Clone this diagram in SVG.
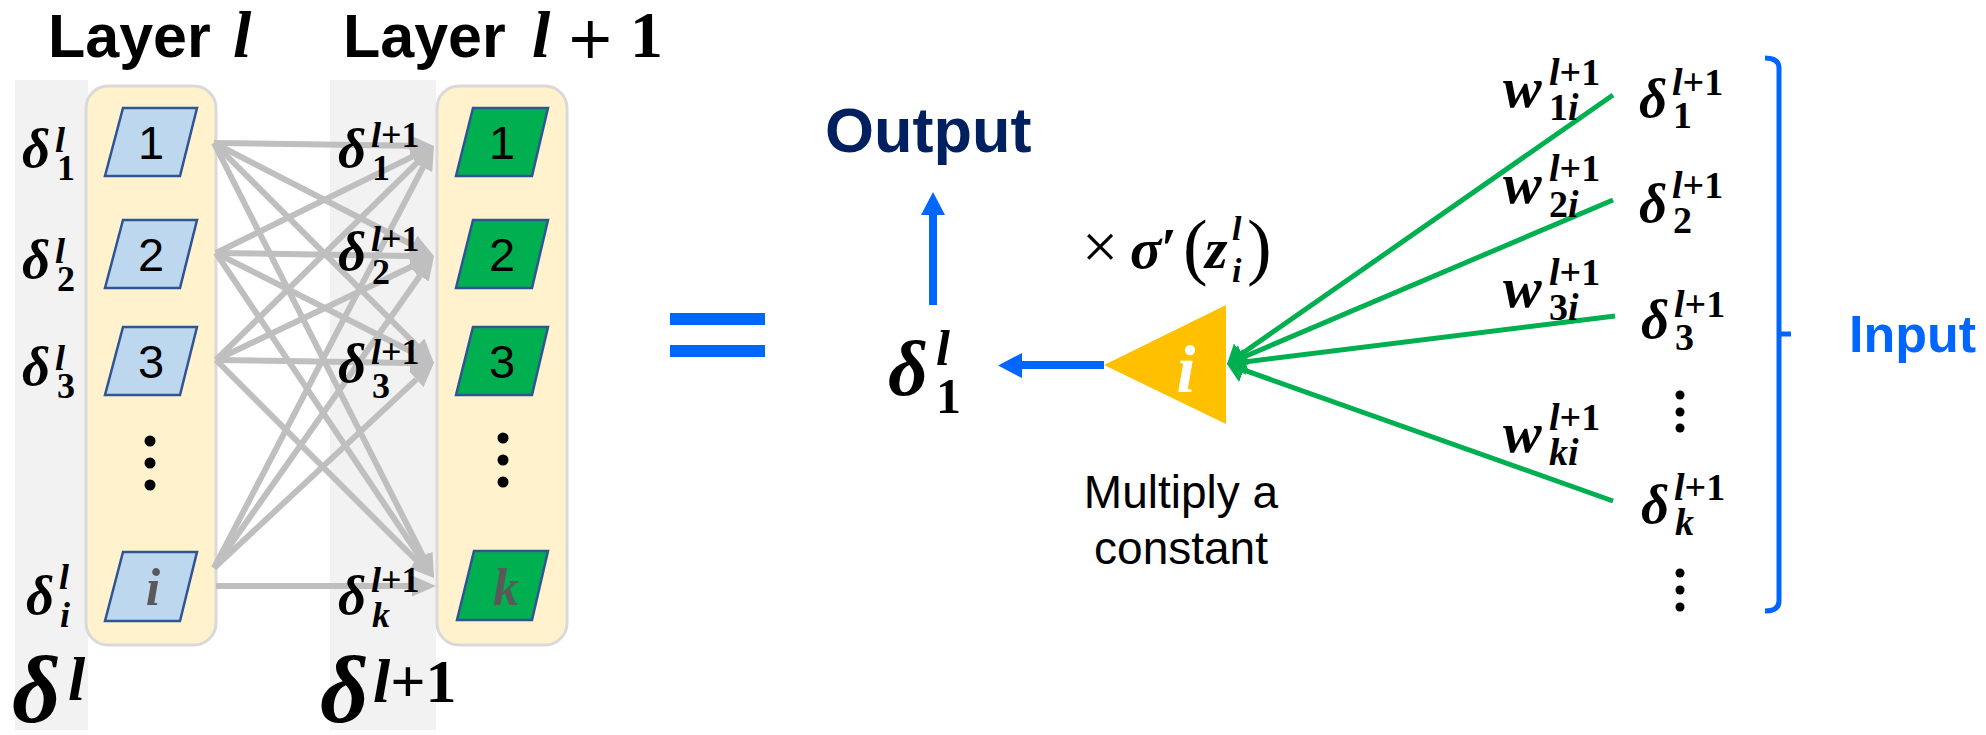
<svg xmlns="http://www.w3.org/2000/svg" width="1986" height="735" viewBox="0 0 1986 735">
<style>
.band{fill:#F2F2F2}
.col{fill:#FFF2CC;stroke:#D9D9D9;stroke-width:3}
.pb{fill:#BDD7EE;stroke:#2F5597;stroke-width:2.5}
.pg{fill:#00B050;stroke:#2F5597;stroke-width:2.5}
.num{font-family:"Liberation Sans",Arial,sans-serif;font-size:47px;fill:#000;text-anchor:middle}
.m{font-family:"Liberation Serif","DejaVu Serif",serif;font-weight:bold;font-style:italic;fill:#000}
.u{font-style:normal}
.gl{stroke:#BFBFBF;stroke-width:6;fill:none;marker-end:url(#ga)}
.gn{stroke:#00B050;stroke-width:5;fill:none;marker-end:url(#gr)}
.sans{font-family:"Liberation Sans",Arial,sans-serif}
.L{font-size:55px}.S{font-size:36px}
.W{font-size:58px}.WS{font-size:38px}
</style>
<defs>
<marker id="ga" viewBox="0 0 10 10" refX="0" refY="5" markerWidth="4" markerHeight="3.5" orient="auto" markerUnits="strokeWidth" preserveAspectRatio="none"><path d="M0,0 L10,5 L0,10 z" fill="#BFBFBF"/></marker>
<marker id="gr" viewBox="0 0 10 10" refX="0" refY="5" markerWidth="3.5" markerHeight="5.2" orient="auto" markerUnits="strokeWidth" preserveAspectRatio="none"><path d="M0,0 L10,5 L0,10 z" fill="#00B050"/></marker>
</defs>
<rect width="1986" height="735" fill="#fff"/>

<g id="titles">
<text x="48" y="57" class="sans" font-size="61" font-weight="bold">Layer <tspan class="m" font-size="66" x="233">l</tspan></text>
<text x="343" y="57" class="sans" font-size="61" font-weight="bold">Layer <tspan class="m" font-size="66" x="532">l</tspan><tspan font-family="DejaVu Sans, sans-serif" font-size="58" font-weight="normal" x="566" y="58">+</tspan><tspan class="m u" font-size="66" x="630" y="57">1</tspan></text>
</g>

<g id="bands">
<rect class="band" x="15" y="80" width="73" height="650"/>
<rect class="band" x="330" y="80" width="106" height="650"/>
<rect class="col" x="86" y="86" width="130" height="559" rx="22"/>
<rect class="col" x="437" y="86" width="130" height="559" rx="22"/>
</g>

<g id="connectors">
<line class="gl" x1="214" y1="143" x2="410" y2="145.7"/>
<line class="gl" x1="214" y1="143" x2="412.6" y2="245"/>
<line class="gl" x1="214" y1="143" x2="417" y2="346"/>
<line class="gl" x1="214" y1="143" x2="423.2" y2="556.6"/>
<line class="gl" x1="216" y1="253" x2="412.5" y2="156.6"/>
<line class="gl" x1="216" y1="253" x2="410" y2="256"/>
<line class="gl" x1="216" y1="253" x2="412.6" y2="352.2"/>
<line class="gl" x1="216" y1="253" x2="420.6" y2="558.1"/>
<line class="gl" x1="216" y1="360" x2="416.9" y2="162.8"/>
<line class="gl" x1="216" y1="360" x2="412.3" y2="266.3"/>
<line class="gl" x1="216" y1="360" x2="410" y2="363"/>
<line class="gl" x1="216" y1="360" x2="417" y2="561"/>
<line class="gl" x1="214" y1="568" x2="422.9" y2="167.3"/>
<line class="gl" x1="214" y1="568" x2="420.2" y2="275.6"/>
<line class="gl" x1="214" y1="568" x2="416.4" y2="379.4"/>
<line class="gl" x1="216" y1="586" x2="412" y2="586"/>
</g>

<g id="node-l1"><polygon class="pb" points="123,108 197,108 180,176 105,176"/><text class="num" x="151" y="159">1</text></g>
<g id="node-l2"><polygon class="pb" points="123,220 197,220 180,288 105,288"/><text class="num" x="151" y="271">2</text></g>
<g id="node-l3"><polygon class="pb" points="123,327 197,327 180,395 105,395"/><text class="num" x="151" y="378">3</text></g>
<g id="node-li"><polygon class="pb" points="123,552 197,552 180,621 105,621"/><text class="m" x="153" y="605" font-size="52" text-anchor="middle" style="fill:#595959">i</text></g>
<g id="dots-left" fill="#000"><circle cx="150" cy="441" r="5.5"/><circle cx="150" cy="463" r="5.5"/><circle cx="150" cy="485" r="5.5"/></g>

<g id="node-r1"><polygon class="pg" points="473,108 548,108 532,176 456,176"/><text class="num" x="502" y="159">1</text></g>
<g id="node-r2"><polygon class="pg" points="473,220 548,220 532,288 456,288"/><text class="num" x="502" y="271">2</text></g>
<g id="node-r3"><polygon class="pg" points="473,327 548,327 532,395 456,395"/><text class="num" x="502" y="378">3</text></g>
<g id="node-rk"><polygon class="pg" points="474,551 548,551 532,620 457,620"/><text class="m" x="506" y="605" font-size="52" text-anchor="middle" style="fill:#595959">k</text></g>
<g id="dots-right" fill="#000"><circle cx="503" cy="438" r="5.5"/><circle cx="503" cy="460" r="5.5"/><circle cx="503" cy="482" r="5.5"/></g>

<g id="labels-left">
<text class="m L" x="22" y="167">δ<tspan class="S" x="55" y="152">l</tspan><tspan class="S u" x="57" y="180">1</tspan></text>
<text class="m L" x="22" y="278">δ<tspan class="S" x="55" y="263">l</tspan><tspan class="S u" x="57" y="291">2</tspan></text>
<text class="m L" x="22" y="385">δ<tspan class="S" x="55" y="370">l</tspan><tspan class="S u" x="57" y="398">3</tspan></text>
<text class="m L" x="26" y="614">δ<tspan class="S" x="59" y="589">l</tspan><tspan class="S" x="60" y="627">i</tspan></text>
<text class="m" font-size="95" x="12" y="722">δ<tspan font-size="62" x="68" y="700">l</tspan></text>
</g>

<g id="labels-right">
<text class="m L" x="338" y="167">δ<tspan class="S" x="371" y="147">l<tspan class="u">+1</tspan></tspan><tspan class="S u" x="372" y="180">1</tspan></text>
<text class="m L" x="338" y="270">δ<tspan class="S" x="371" y="251">l<tspan class="u">+1</tspan></tspan><tspan class="S u" x="372" y="284">2</tspan></text>
<text class="m L" x="338" y="382">δ<tspan class="S" x="371" y="364">l<tspan class="u">+1</tspan></tspan><tspan class="S u" x="372" y="398">3</tspan></text>
<text class="m L" x="338" y="614">δ<tspan class="S" x="371" y="592">l<tspan class="u">+1</tspan></tspan><tspan class="S" x="372" y="627">k</tspan></text>
<text class="m" font-size="95" x="320" y="722">δ<tspan font-size="62" x="373" y="702">l<tspan class="u">+1</tspan></tspan></text>
</g>

<g id="equals" fill="#0066FF"><rect x="670" y="313" width="95" height="12"/><rect x="670" y="345" width="95" height="12"/></g>

<g id="output">
<text x="825" y="152" class="sans" font-size="63" font-weight="bold" fill="#002060">Output</text>
<line x1="933" y1="305" x2="933" y2="213" stroke="#0066FF" stroke-width="8"/>
<polygon points="921,215 945,215 933,192" fill="#0066FF"/>
</g>

<g id="delta-out">
<text class="m" font-size="78" x="888" y="395">δ<tspan font-size="50" x="936" y="365">l</tspan><tspan class="u" font-size="50" x="936" y="413">1</tspan></text>
<line x1="1104" y1="365" x2="1020" y2="365" stroke="#0066FF" stroke-width="8"/>
<polygon points="1022,353 1022,378 998,365.5" fill="#0066FF"/>
</g>

<g id="neuron-i">
<polygon points="1104,365 1226,305 1226,424" fill="#FFC000"/>
<text class="m" x="1186" y="392" font-size="68" text-anchor="middle" style="fill:#fff">i</text>
</g>
<g id="sigma-label">
<text class="m" font-size="58" x="1082" y="268"><tspan class="u" font-weight="normal" font-size="64">×</tspan><tspan x="1130">σ</tspan><tspan class="u" x="1161">′</tspan><tspan class="u" font-weight="normal" font-size="74" x="1183" y="271">(</tspan><tspan x="1205" y="268">z</tspan><tspan font-size="34" x="1232" y="240">l</tspan><tspan font-size="34" x="1232" y="282">i</tspan><tspan class="u" font-weight="normal" font-size="74" x="1247" y="271">)</tspan></text>
</g>
<g id="multiply-label">
<text class="sans" font-size="46" x="1181" y="508" text-anchor="middle">Multiply a</text>
<text class="sans" font-size="46" x="1181" y="564" text-anchor="middle">constant</text>
</g>

<g id="inputs">
<line class="gn" x1="1613" y1="95" x2="1241.4" y2="354"/>
<line class="gn" x1="1613" y1="200" x2="1243.1" y2="357.2"/>
<line class="gn" x1="1615" y1="316" x2="1244.4" y2="361.9"/>
<line class="gn" x1="1613" y1="501" x2="1243.5" y2="369.9"/>
</g>

<g id="weights">
<text class="m W" x="1503" y="107">w<tspan class="WS" x="1549" y="85">l<tspan class="u">+1</tspan></tspan><tspan class="WS" x="1549" y="120"><tspan class="u">1</tspan>i</tspan></text>
<text class="m W" x="1503" y="203">w<tspan class="WS" x="1549" y="181">l<tspan class="u">+1</tspan></tspan><tspan class="WS" x="1549" y="217"><tspan class="u">2</tspan>i</tspan></text>
<text class="m W" x="1503" y="307">w<tspan class="WS" x="1549" y="285">l<tspan class="u">+1</tspan></tspan><tspan class="WS" x="1549" y="320"><tspan class="u">3</tspan>i</tspan></text>
<text class="m W" x="1503" y="452">w<tspan class="WS" x="1549" y="430">l<tspan class="u">+1</tspan></tspan><tspan class="WS" x="1549" y="465">ki</tspan></text>
</g>

<g id="deltas-in">
<text class="m L" x="1639" y="117">δ<tspan class="WS" x="1672" y="95">l<tspan class="u">+1</tspan></tspan><tspan class="WS u" x="1673" y="128">1</tspan></text>
<text class="m L" x="1639" y="222">δ<tspan class="WS" x="1672" y="198">l<tspan class="u">+1</tspan></tspan><tspan class="WS u" x="1673" y="233">2</tspan></text>
<text class="m L" x="1641" y="338">δ<tspan class="WS" x="1674" y="317">l<tspan class="u">+1</tspan></tspan><tspan class="WS u" x="1675" y="350">3</tspan></text>
<text class="m L" x="1641" y="523">δ<tspan class="WS" x="1674" y="500">l<tspan class="u">+1</tspan></tspan><tspan class="WS" x="1675" y="535">k</tspan></text>
<g fill="#000"><circle cx="1680" cy="395" r="4.5"/><circle cx="1680" cy="412" r="4.5"/><circle cx="1680" cy="428" r="4.5"/><circle cx="1680" cy="573" r="4.5"/><circle cx="1680" cy="590" r="4.5"/><circle cx="1680" cy="607" r="4.5"/></g>
</g>

<g id="input-bracket">
<path d="M1765,58 Q1779,58 1779,68 L1779,601 Q1779,611 1765,611 M1779,334 L1791,334" fill="none" stroke="#0066FF" stroke-width="5"/>
<text x="1849" y="352" class="sans" font-size="52" font-weight="bold" fill="#0066FF">Input</text>
</g>
</svg>
